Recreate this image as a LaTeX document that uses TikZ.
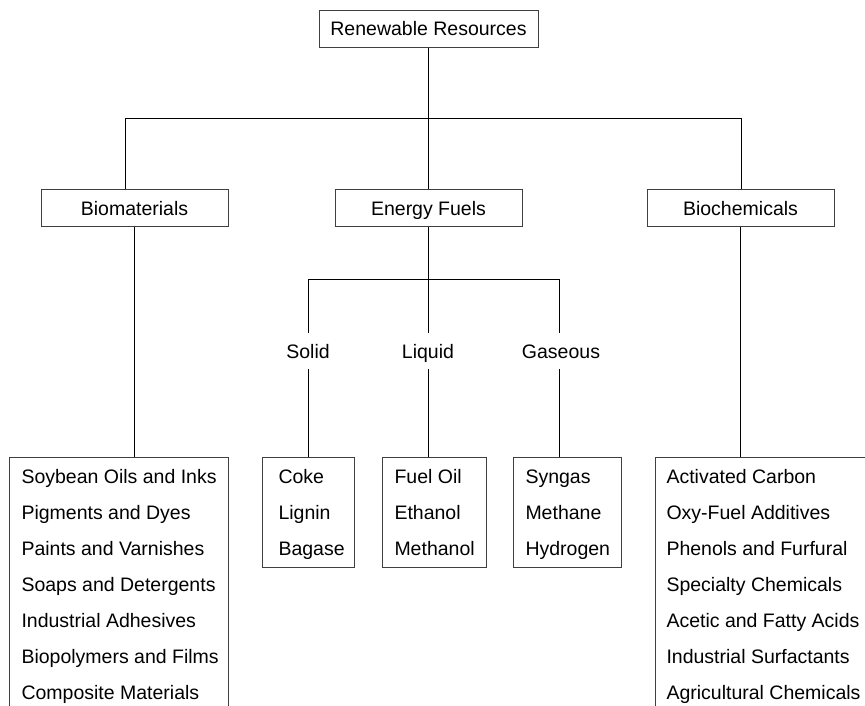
\documentclass[tikz,border=0pt]{standalone}
\usepackage{fontspec}
\setmainfont{Liberation Sans}
\begin{document}
\begin{tikzpicture}[x=1pt,y=-1pt,line width=1pt,
  txt/.style={font=\fontsize{19.5}{23}\selectfont},
  box/.style={txt,draw=black!75,minimum height=37pt,minimum width=187pt,inner sep=0pt,text height=14pt,text depth=0pt},
  lab/.style={txt,inner sep=0pt,outer ysep=11pt,text height=14pt,text depth=0pt},
  item/.style={txt,anchor=base west,inner sep=0pt},
  listbox/.style={draw=black!75,anchor=north west,inner sep=0pt},
  conn/.style={draw=black,line width=1pt}]
\useasboundingbox (0,0) rectangle (865,705);
\clip (0,0) rectangle (865,705);
% top level boxes
\node[box,minimum width=219pt] (rr) at (428.5,28.5) {Renewable Resources};
\node[box] (bio) at (134.5,208) {Biomaterials};
\node[box] (ef) at (428.5,208) {Energy Fuels};
\node[box] (bc) at (740.5,208) {Biochemicals};
% labels
\node[lab] (solid) at (308,351) {Solid};
\node[lab] (liquid) at (428,351) {Liquid};
\node[lab] (gas) at (561,351) {Gaseous};
% list boxes
\node[listbox,minimum width=219pt,minimum height=300pt] (bml) at (9,457) {};
\node[listbox,minimum width=92pt,minimum height=110pt] (sl) at (262,457) {};
\node[listbox,minimum width=104pt,minimum height=110pt] (ll) at (382,457) {};
\node[listbox,minimum width=108pt,minimum height=110pt] (gl) at (513,457) {};
\node[listbox,minimum width=300pt,minimum height=300pt] (cl) at (655,457) {};
% list items
\foreach \t [count=\i] in {Soybean Oils and Inks,Pigments and Dyes,Paints and Varnishes,Soaps and Detergents,Industrial Adhesives,Biopolymers and Films,Composite Materials}
  \node[item] (bm\i) at (21,{447+36*\i}) {\t};
\foreach \t [count=\i] in {Coke,Lignin,Bagase}
  \node[item] (s\i) at (278,{447+36*\i}) {\t};
\foreach \t [count=\i] in {Fuel Oil,Ethanol,Methanol}
  \node[item] (l\i) at (394,{447+36*\i}) {\t};
\foreach \t [count=\i] in {Syngas,Methane,Hydrogen}
  \node[item] (g\i) at (525,{447+36*\i}) {\t};
\foreach \t [count=\i] in {Activated Carbon,Oxy-Fuel Additives,Phenols and Furfural,Specialty Chemicals,Acetic and Fatty Acids,Industrial Surfactants,Agricultural Chemicals}
  \node[item] (c\i) at (666,{447+36*\i}) {\t};
% junctions
\coordinate (jL) at (125,118);
\coordinate (jR) at (741,118);
\coordinate (jEL) at (308,279);
\coordinate (jER) at (559,279);
% connectors
\draw[conn] (rr.south) -- (ef.north);
\draw[conn] (jL |- bio.north) -- (jL) -- (jR) -- (jR |- bc.north);
\draw[conn] (ef.south) -- (ef.south |- jEL);
\draw[conn] (jEL |- solid.north) -- (jEL) -- (jER) -- (jER |- gas.north);
\draw[conn] (liquid.north) -- (liquid.north |- jEL);
\draw[conn] (solid.south) -- (solid.south |- sl.north);
\draw[conn] (liquid.south) -- (liquid.south |- ll.north);
\draw[conn] (jER |- gas.south) -- (jER |- gl.north);
\draw[conn] (bio.south) -- (bio.south |- bml.north);
\draw[conn] (bc.south) -- (bc.south |- cl.north);
\end{tikzpicture}
\end{document}
